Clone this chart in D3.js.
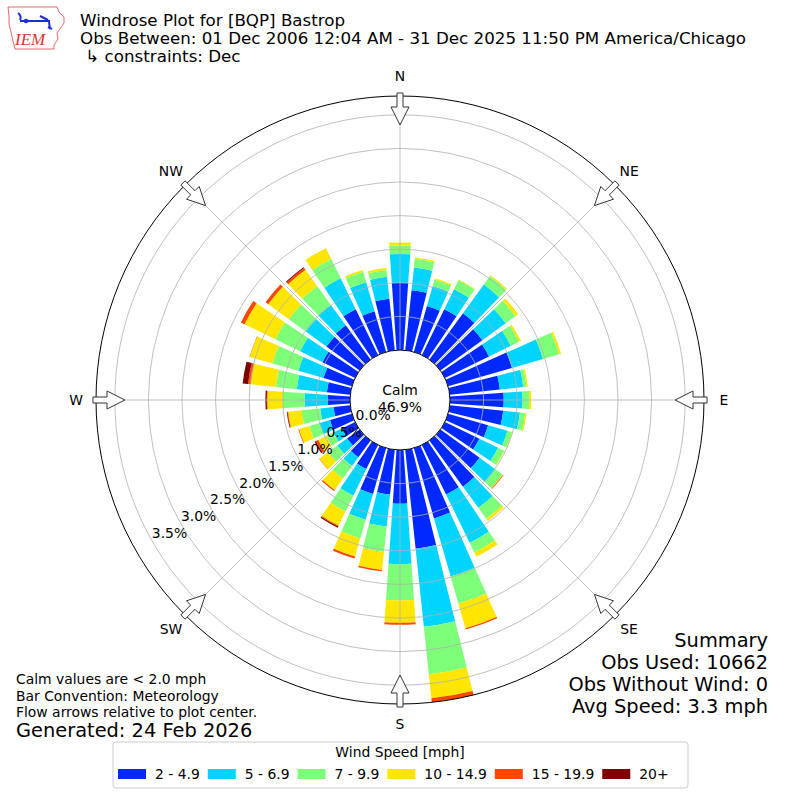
<!DOCTYPE html>
<html>
<head>
<meta charset="utf-8">
<script src="https://cdn.jsdelivr.net/npm/d3@7"></script>
<style>
  body { margin: 0; background: #fff; }
  text { font-family: "DejaVu Sans", sans-serif; }
</style>
</head>
<body>
<svg id="windrose" width="800" height="800"></svg>
<script>
// wind directions (degrees, meteorological) and frequency (%) per speed bin
const directions = [0, 10, 20, 30, 40, 50, 60, 70, 80, 90, 100, 110, 120, 130, 140, 150, 160, 170,
                    180, 190, 200, 210, 220, 230, 240, 250, 260, 270, 280, 290, 300, 310, 320, 330, 340, 350];

const speed2to5   = [1.00, 0.90, 0.71, 0.76, 0.85, 0.77, 0.73, 0.99, 0.75, 0.80, 0.80, 0.62, 0.57, 0.72, 0.85, 0.82, 1.09, 1.48,
                     0.80, 0.67, 0.71, 0.40, 0.31, 0.23, 0.22, 0.34, 0.25, 0.33, 0.35, 0.44, 0.54, 0.61, 0.63, 0.76, 0.63, 0.77];
const speed5to7   = [0.43, 0.34, 0.31, 0.33, 0.53, 0.43, 0.36, 0.48, 0.35, 0.28, 0.25, 0.30, 0.31, 0.29, 0.39, 0.80, 0.90, 1.17,
                     0.90, 0.48, 0.40, 0.44, 0.16, 0.18, 0.14, 0.16, 0.20, 0.345, 0.45, 0.39, 0.37, 0.38, 0.38, 0.51, 0.45, 0.33];
const speed7to10  = [0.13, 0.13, 0.10, 0.15, 0.15, 0.18, 0.14, 0.25, 0.05, 0.10, 0.08, 0.07, 0.10, 0.13, 0.20, 0.16, 0.42, 0.71,
                     0.54, 0.38, 0.29, 0.26, 0.23, 0.17, 0.12, 0.16, 0.28, 0.325, 0.31, 0.40, 0.41, 0.31, 0.34, 0.32, 0.16, 0.10];
const speed10to15 = [0.04, 0.02, 0.02, 0.01, 0.02, 0.05, 0.03, 0.03, 0.02, 0.03, 0.02, 0.01, 0.01, 0.01, 0.04, 0.07, 0.38, 0.36,
                     0.33, 0.27, 0.28, 0.24, 0.21, 0.16, 0.13, 0.16, 0.20, 0.23, 0.38, 0.35, 0.51, 0.38, 0.30, 0.18, 0.03, 0.03];
const speed15to20 = [0, 0, 0, 0, 0, 0, 0, 0, 0, 0, 0, 0, 0, 0.01, 0, 0, 0.02, 0.06,
                     0.03, 0.02, 0.03, 0.01, 0.02, 0.005, 0.04, 0.01, 0.01, 0.01, 0.04, 0.005, 0.06, 0.05, 0.035, 0, 0, 0];
const speed20plus = [0, 0, 0, 0, 0, 0, 0, 0, 0, 0, 0, 0, 0, 0, 0, 0, 0, 0,
                     0, 0, 0, 0.02, 0, 0, 0.02, 0, 0.01, 0.02, 0.08, 0, 0, 0, 0.015, 0, 0, 0];

const speedLabels = ["2 - 4.9", "5 - 6.9", "7 - 9.9", "10 - 14.9", "15 - 19.9", "20+"];
const speedColors = ["#0028ff", "#00d4ff", "#7dff7a", "#ffe600", "#ff4700", "#7f0000"];

const calmPct = 46.9;
const ringTicks = [0.0, 0.5, 1.0, 1.5, 2.0, 2.5, 3.0, 3.5];
const compassLabels = ["N", "NE", "E", "SE", "S", "SW", "W", "NW"];
const compassAngles = [0, 45, 90, 135, 180, 225, 270, 315];

const titleLines = ["Windrose Plot for [BQP] Bastrop",
                    "Obs Between: 01 Dec 2006 12:04 AM - 31 Dec 2025 11:50 PM America/Chicago",
                    " \u21b3 constraints: Dec"];
const noteLines = ["Calm values are < 2.0 mph", "Bar Convention: Meteorology", "Flow arrows relative to plot center."];
const generatedText = "Generated: 24 Feb 2026";
const summaryLines = ["Summary", "Obs Used: 10662", "Obs Without Wind: 0", "Avg Speed: 3.3 mph"];
const legendTitle = "Wind Speed [mph]";

let svg = d3.select("#windrose");
svg.append("rect").attr("width", 800).attr("height", 800).attr("fill", "white");

let cx = 400, cy = 400;
let rad = Math.PI / 180;
let small = "13.9px";

let series = [speed2to5, speed5to7, speed7to10, speed10to15, speed15to20, speed20plus];
let rows = directions.map(function(d, i) {
    let row = {dir: d};
    speedLabels.forEach(function(k, j) { row[k] = series[j][i]; });
    return row;
});

let stackedData = d3.stack().keys(speedLabels)(rows);
let maxTotal = d3.max(rows, function(row) { return d3.sum(speedLabels, function(k) { return row[k]; }); });

let r = d3.scaleLinear()
    .domain([0, maxTotal])
    .range([50, 304]);

let color = d3.scaleOrdinal()
    .domain(speedLabels)
    .range(speedColors);

let halfWidth = 4 * rad;   // 10 deg sectors, 80% opening

let arc = d3.arc()
    .innerRadius(function(d) { return r(d[0]); })
    .outerRadius(function(d) { return r(d[1]); })
    .startAngle(function(d) { return d.data.dir * rad - halfWidth; })
    .endAngle(function(d) { return d.data.dir * rad + halfWidth; });

let plot = svg.append("g")
    .attr("transform", `translate(${cx}, ${cy})`);

plot.selectAll("g.layer")
    .data(stackedData)
    .join("g")
    .attr("class", "layer")
    .attr("fill", function(d) { return color(d.key); })
    .selectAll("path")
    .data(function(d) { return d.filter(function(s) { return s[1] - s[0] > 0; }); })
    .join("path")
    .attr("d", arc);

// grid on top of the bars, like matplotlib
let outerR = r(maxTotal);

plot.selectAll("line.spoke")
    .data(compassAngles)
    .join("line")
    .attr("class", "spoke")
    .attr("x1", 0).attr("y1", 0)
    .attr("x2", function(a) { return outerR * Math.sin(a * rad); })
    .attr("y2", function(a) { return -outerR * Math.cos(a * rad); })
    .attr("stroke", "#b0b0b0")
    .attr("stroke-width", 0.8);

plot.selectAll("circle.ring")
    .data(ringTicks.filter(function(t) { return t > 0; }))
    .join("circle")
    .attr("class", "ring")
    .attr("r", function(t) { return r(t); })
    .attr("fill", "none")
    .attr("stroke", "#b0b0b0")
    .attr("stroke-width", 0.8);

plot.append("circle")
    .attr("r", outerR)
    .attr("fill", "none")
    .attr("stroke", "black")
    .attr("stroke-width", 1);

// calm circle
plot.append("circle")
    .attr("r", r(0))
    .attr("fill", "white")
    .attr("stroke", "black")
    .attr("stroke-width", 1);

plot.append("text")
    .attr("x", 0).attr("y", -5)
    .attr("text-anchor", "middle")
    .style("font-size", small)
    .text("Calm");

plot.append("text")
    .attr("x", 0).attr("y", 12)
    .attr("text-anchor", "middle")
    .style("font-size", small)
    .text(calmPct.toFixed(1) + "%");

// radial tick labels along 240 deg
let labelAngle = 240 * rad;
plot.selectAll("text.rlabel")
    .data(ringTicks)
    .join("text")
    .attr("class", "rlabel")
    .attr("x", function(t) { return (r(t) - 19) * Math.sin(labelAngle); })
    .attr("y", function(t) { return -(r(t) - 19) * Math.cos(labelAngle); })
    .attr("dy", "0.35em")
    .attr("text-anchor", "middle")
    .style("font-size", small)
    .text(function(t) { return t.toFixed(1) + "%"; });

// flow arrows at the rim, pointing inward
function arrowPath(a) {
    let s = Math.sin(a * rad), c = Math.cos(a * rad);
    let tip = outerR - 29, neck = outerR - 11, tail = outerR + 3;
    let pts = [[tip, 0], [neck, 9], [neck, 3], [tail, 3], [tail, -3], [neck, -3], [neck, -9]];
    return "M" + pts.map(function(p) {
        return [p[0] * s + p[1] * c, -p[0] * c + p[1] * s].map(function(v) { return v.toFixed(2); }).join(",");
    }).join("L") + "Z";
}

plot.selectAll("path.arrow")
    .data(compassAngles)
    .join("path")
    .attr("class", "arrow")
    .attr("d", arrowPath)
    .attr("fill", "white")
    .attr("stroke", "#333")
    .attr("stroke-width", 1);

plot.selectAll("text.compass")
    .data(compassAngles)
    .join("text")
    .attr("class", "compass")
    .attr("x", function(a) { return (outerR + 20) * Math.sin(a * rad); })
    .attr("y", function(a) { return -(outerR + 20) * Math.cos(a * rad); })
    .attr("dy", "0.35em")
    .attr("text-anchor", "middle")
    .style("font-size", small)
    .text(function(a, i) { return compassLabels[i]; });

// title
svg.selectAll("text.title")
    .data(titleLines)
    .join("text")
    .attr("class", "title")
    .attr("x", 80)
    .attr("y", function(d, i) { return 26 + i * 18; })
    .attr("xml:space", "preserve")
    .style("font-size", "16.7px")
    .text(function(d) { return d; });

// IEM logo (rough)
let logo = svg.append("g");
logo.append("path")
    .attr("d", "M8,7 L57,7 L59,12 L64,17 L64,23 L60,29 L57,33 L58,39 L54,45 L54,49 L15,49 L13,41 L11,32 L9,24 L9,16 Z")
    .attr("fill", "white")
    .attr("stroke", "#d44")
    .attr("stroke-width", 0.8);
logo.append("path")
    .attr("d", "M18,13 Q22,16 20,20 M20,21 L50,21 M40,16 L48,20 M49,22 L50,29 M48,27 L52,29")
    .attr("fill", "none")
    .attr("stroke", "#1a2fd0")
    .attr("stroke-width", 2);
logo.append("circle").attr("cx", 26).attr("cy", 21).attr("r", 2.2).attr("fill", "#1a2fd0");
logo.append("text")
    .attr("x", 15).attr("y", 45)
    .style("font-family", "'Liberation Serif', serif")
    .style("font-style", "italic")
    .style("font-size", "17px")
    .attr("fill", "#d33")
    .text("IEM");

// notes bottom left
svg.selectAll("text.note")
    .data(noteLines)
    .join("text")
    .attr("class", "note")
    .attr("x", 16)
    .attr("y", function(d, i) { return 684 + i * 16.5; })
    .style("font-size", small)
    .text(function(d) { return d; });

svg.append("text")
    .attr("x", 16)
    .attr("y", 737)
    .style("font-size", "19.4px")
    .text(generatedText);

// summary bottom right
svg.selectAll("text.summary")
    .data(summaryLines)
    .join("text")
    .attr("class", "summary")
    .attr("x", 768)
    .attr("y", function(d, i) { return 647 + i * 22; })
    .attr("text-anchor", "end")
    .style("font-size", "19.4px")
    .text(function(d) { return d; });

// legend
let legend = svg.append("g");
legend.append("rect")
    .attr("x", 113).attr("y", 742)
    .attr("width", 575).attr("height", 46)
    .attr("rx", 3)
    .attr("fill", "white")
    .attr("stroke", "#cccccc")
    .attr("stroke-width", 1);

legend.append("text")
    .attr("x", 400).attr("y", 757)
    .attr("text-anchor", "middle")
    .style("font-size", small)
    .text(legendTitle);

let xCursor = 118;
speedLabels.forEach(function(k) {
    legend.append("rect")
        .attr("x", xCursor).attr("y", 769)
        .attr("width", 28).attr("height", 10)
        .attr("fill", color(k));
    let t = legend.append("text")
        .attr("x", xCursor + 37).attr("y", 779)
        .style("font-size", small)
        .text(k);
    xCursor += 37 + t.node().getComputedTextLength() + 8;
});
</script>
</body>
</html>
